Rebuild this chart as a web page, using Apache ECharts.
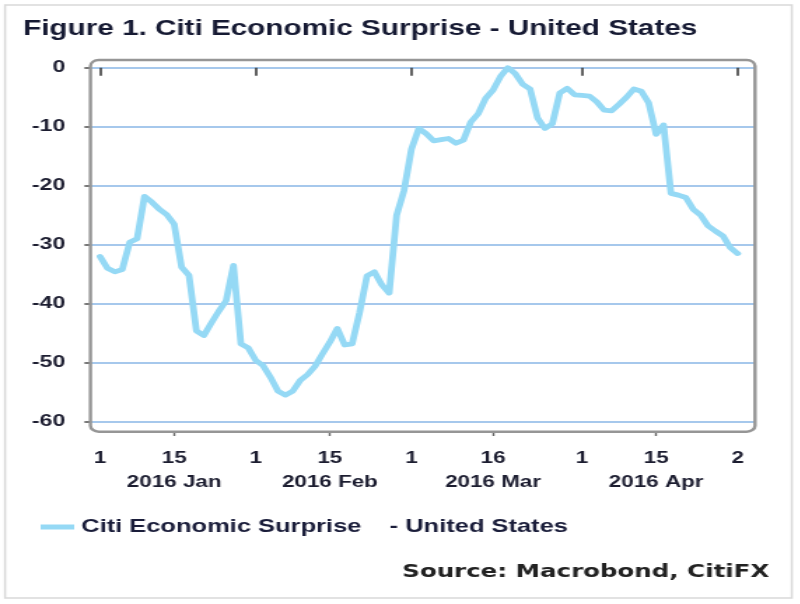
<!DOCTYPE html>
<html>
<head>
	<meta charset="utf-8">
	<title>Citi Economic Surprise - United States</title>
	<script src="https://cdn.jsdelivr.net/npm/echarts@6/dist/echarts.min.js"></script>
	<style>
		html, body { margin: 0; padding: 0; background: #fff; overflow: hidden; }
		/* the reference picture is stretched sideways, so the chart is drawn narrow and widened */
		#main { height: 604px; transform-origin: 0 0; }
	</style>
</head>
<body>
	<div id="main"></div>
	<script>
		// business days, 2016-01-01 .. 2016-05-02
		var dates = [
			'2016-01-01', '2016-01-04', '2016-01-05', '2016-01-06', '2016-01-07', '2016-01-08',
			'2016-01-11', '2016-01-12', '2016-01-13', '2016-01-14', '2016-01-15',
			'2016-01-18', '2016-01-19', '2016-01-20', '2016-01-21', '2016-01-22',
			'2016-01-25', '2016-01-26', '2016-01-27', '2016-01-28', '2016-01-29',
			'2016-02-01', '2016-02-02', '2016-02-03', '2016-02-04', '2016-02-05',
			'2016-02-08', '2016-02-09', '2016-02-10', '2016-02-11', '2016-02-12',
			'2016-02-15', '2016-02-16', '2016-02-17', '2016-02-18', '2016-02-19',
			'2016-02-22', '2016-02-23', '2016-02-24', '2016-02-25', '2016-02-26', '2016-02-29',
			'2016-03-01', '2016-03-02', '2016-03-03', '2016-03-04',
			'2016-03-07', '2016-03-08', '2016-03-09', '2016-03-10', '2016-03-11',
			'2016-03-14', '2016-03-15', '2016-03-16', '2016-03-17', '2016-03-18',
			'2016-03-21', '2016-03-22', '2016-03-23', '2016-03-24', '2016-03-25',
			'2016-03-28', '2016-03-29', '2016-03-30', '2016-03-31',
			'2016-04-01', '2016-04-04', '2016-04-05', '2016-04-06', '2016-04-07', '2016-04-08',
			'2016-04-11', '2016-04-12', '2016-04-13', '2016-04-14', '2016-04-15',
			'2016-04-18', '2016-04-19', '2016-04-20', '2016-04-21', '2016-04-22',
			'2016-04-25', '2016-04-26', '2016-04-27', '2016-04-28', '2016-04-29',
			'2016-05-02'
		];

		// Citi Economic Surprise Index - United States
		var surprise = [
			-32.0, -34.0, -34.6, -34.2, -29.6, -29.0, -21.8, -22.8, -24.0, -24.9, -26.5,
			-33.8, -35.2, -44.6, -45.4, -43.3, -41.3, -39.5, -33.5, -46.8, -47.5,
			-49.6, -50.5, -52.5, -54.8, -55.5, -54.8, -53.0, -52.0, -50.6, -48.5,
			-46.5, -44.2, -47.0, -46.8, -41.5, -35.3, -34.6, -36.8, -38.2, -25.0, -20.8,
			-13.8, -10.3, -11.2, -12.4, -12.2, -12.0, -12.8, -12.3, -9.2, -7.8, -5.2,
			-3.8, -1.5, 0.0, -1.0, -2.8, -3.6, -8.5, -10.3, -9.5, -4.3, -3.5, -4.6,
			-4.7, -4.8, -5.8, -7.2, -7.3, -6.2, -5.0, -3.6, -4.0, -6.0, -11.3,
			-9.7, -21.3, -21.6, -22.0, -24.0, -25.0, -26.8, -27.7, -28.5, -30.5,
			-31.5
		];

		var majorTicks = ['2016-01-01', '2016-02-01', '2016-03-01', '2016-04-01', '2016-05-02'];
		var minorTicks = ['2016-01-15', '2016-02-15', '2016-03-16', '2016-04-15'];
		var monthLabels = ['2016 Jan', '2016 Feb', '2016 Mar', '2016 Apr'];

		var STRETCH = 1.4;
		var W = 800 / STRETCH;
		var main = document.getElementById('main');
		main.style.width = W + 'px';
		main.style.transform = 'scaleX(' + STRETCH + ')';

		var chart = echarts.init(main);

		var lineColor = '#95d9f5';
		var textColor = '#1c1d30';
		var sans = 'Liberation Sans, Arial, sans-serif';

		function dayOf(v) {
			return String(Number(v.slice(8)));
		}

		var tickLabel = {
			fontFamily: sans,
			fontWeight: 'bold',
			fontSize: 16,
			color: textColor,
			lineHeight: 24,
			margin: 14.5
		};

		var option = {
			backgroundColor: '#fff',
			animation: false,
			title: [{
				text: 'Figure 1. Citi Economic Surprise - United States',
				left: 16.5,
				top: 19,
				padding: 0,
				textStyle: { fontFamily: sans, fontWeight: 'bold', fontSize: 21.2, color: '#161a33' }
			}, {
				text: 'Source: Macrobond, CitiFX',
				right: 21.5,
				top: 563,
				padding: 0,
				textStyle: { fontFamily: 'DejaVu Sans, sans-serif', fontWeight: 'bold', fontSize: 17.5, color: '#222' }
			}],
			legend: {
				left: 29,
				top: 518,
				padding: 0,
				icon: 'rect',
				itemWidth: 24,
				itemHeight: 5,
				textStyle: { fontFamily: sans, fontWeight: 'bold', fontSize: 18.2, color: '#1a1d3a' },
				data: ['Citi Economic Surprise    - United States']
			},
			graphic: [{
				type: 'rect',
				silent: true,
				z: -1,
				shape: { x: 3.6, y: 5, width: 562, height: 593 },
				style: { fill: 'none', stroke: '#d9d9d9', lineWidth: 1.5 }
			}, {
				type: 'rect',
				silent: true,
				z: 10,
				shape: { x: 64.6, y: 60, width: 474.7, height: 371.7, r: 6 },
				style: { fill: 'none', stroke: '#969696', lineWidth: 2.4 }
			}],
			grid: [
				// box-wide grid for the value axis and its gridlines
				{ left: 64.6, right: W - 539.3, top: 67.7, bottom: 604 - 421.7 },
				// data grid, first and last business day at the ends
				{ left: 100 / STRETCH, right: W - 738.3 / STRETCH, top: 67.7, bottom: 604 - 421.7 }
			],
			xAxis: [{
				gridIndex: 0,
				type: 'value',
				show: false,
				min: 0,
				max: 1
			}, {
				gridIndex: 1,
				type: 'category',
				position: 'bottom',
				offset: 10.3,
				boundaryGap: false,
				data: dates,
				axisLine: { show: false },
				axisTick: {
					show: true,
					length: 8,
					interval: function (i, v) { return majorTicks.indexOf(v) >= 0; },
					lineStyle: { color: '#3c3c3c', width: 1.6 }
				},
				axisLabel: Object.assign({}, tickLabel, {
					interval: function (i, v) { return majorTicks.indexOf(v) >= 0; },
					formatter: function (v) { return dayOf(v); }
				}),
				splitLine: { show: false }
			}, {
				gridIndex: 1,
				type: 'category',
				position: 'bottom',
				offset: 10.3,
				boundaryGap: false,
				data: dates,
				axisLine: { show: false },
				axisTick: {
					show: true,
					length: 4,
					interval: function (i, v) { return minorTicks.indexOf(v) >= 0; },
					lineStyle: { color: '#666', width: 1.4 }
				},
				axisLabel: Object.assign({}, tickLabel, {
					interval: function (i, v) { return minorTicks.indexOf(v) >= 0; },
					formatter: function (v) {
						return dayOf(v) + '\n' + monthLabels[minorTicks.indexOf(v)];
					}
				}),
				splitLine: { show: false }
			}],
			yAxis: [{
				gridIndex: 0,
				type: 'value',
				min: -60,
				max: 0,
				interval: 10,
				axisLine: { show: false },
				axisTick: { show: true, length: 4.3, lineStyle: { color: '#555', width: 1.6 } },
				axisLabel: {
					fontFamily: sans,
					fontWeight: 'bold',
					fontSize: 16.5,
					color: textColor,
					margin: 18
				},
				splitLine: { show: true, lineStyle: { color: '#a6c8ec', width: 2 } }
			}, {
				gridIndex: 1,
				type: 'value',
				min: -60,
				max: 0,
				interval: 10,
				show: false,
				splitLine: { show: false }
			}],
			series: [{
				name: 'Citi Economic Surprise    - United States',
				type: 'line',
				xAxisIndex: 1,
				yAxisIndex: 1,
				data: surprise,
				symbol: 'none',
				clip: false,
				z: 5,
				itemStyle: { color: lineColor },
				lineStyle: { color: lineColor, width: 4.8, join: 'round', cap: 'round' }
			}]
		};

		chart.setOption(option);
	</script>
</body>
</html>
